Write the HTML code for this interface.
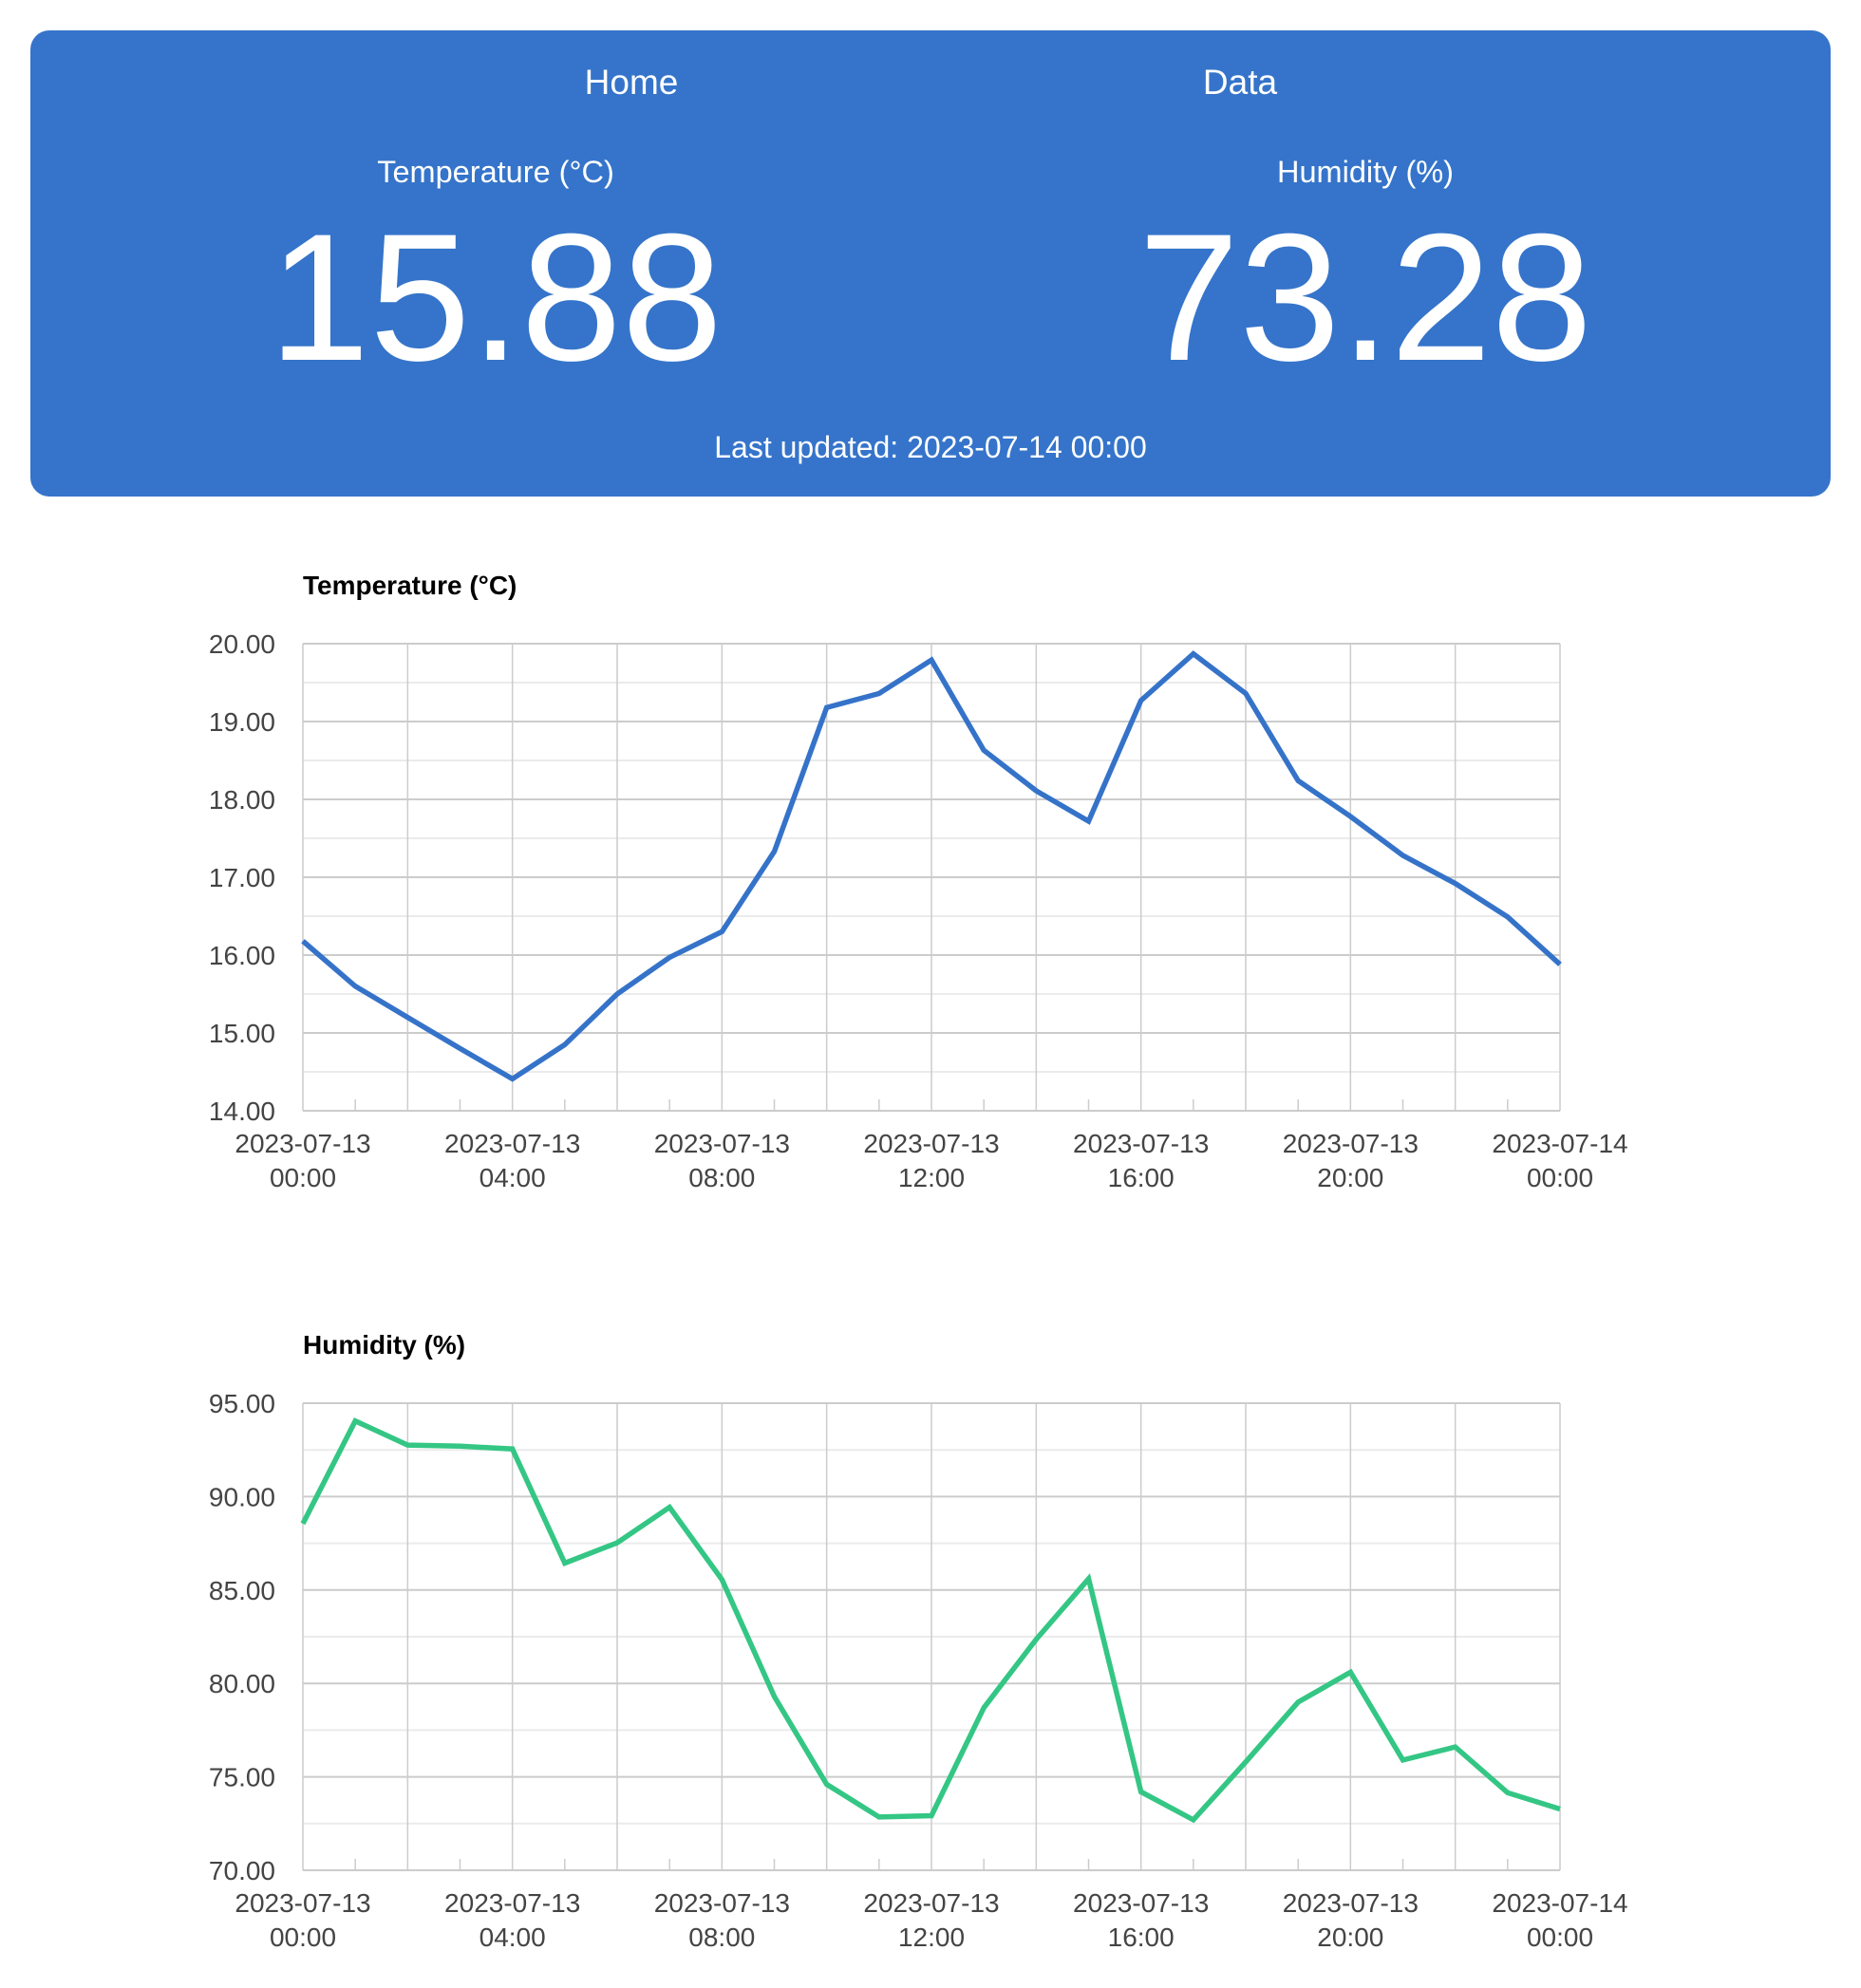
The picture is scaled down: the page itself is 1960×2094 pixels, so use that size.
<!DOCTYPE html>
<html><head><meta charset="utf-8"><style>
body{margin:0;background:#fff;width:1960px;height:2094px;position:relative;overflow:hidden;font-family:"Liberation Sans",Arial,sans-serif}
#hdr{position:absolute;left:32px;top:32px;width:1896px;height:491px;background:#3574ca;border-radius:20px;color:#fff}
.t{position:absolute;transform:translate(-50%,0);white-space:nowrap;text-align:center}
</style></head><body>
<div id="hdr">
 <div class="t" style="left:633px;top:34px;font-size:37px">Home</div>
 <div class="t" style="left:1274px;top:34px;font-size:37px">Data</div>
 <div class="t" style="left:490px;top:131px;font-size:32.5px">Temperature (°C)</div>
 <div class="t" style="left:490px;top:172px;font-size:191px;line-height:220px">15.88</div>
 <div class="t" style="left:1406px;top:131px;font-size:32.5px">Humidity (%)</div>
 <div class="t" style="left:1406px;top:172px;font-size:191px;line-height:220px">73.28</div>
 <div class="t" style="left:948px;top:421px;font-size:32px">Last updated: 2023-07-14 00:00</div>
</div>
<svg id="svg" width="1960" height="2094" style="position:absolute;left:0;top:0"></svg>
<script>
const hours=[0,1,2,3,4,5,6,7,8,9,10,11,12,13,14,15,16,17,18,19,20,21,22,23,24];
const tempValues=[16.18,15.6,15.2,14.8,14.41,14.85,15.5,15.97,16.3,17.33,19.18,19.36,19.79,18.63,18.11,17.72,19.27,19.87,19.36,18.24,17.78,17.28,16.92,16.49,15.88];
const humValues=[88.55,94.05,92.76,92.7,92.55,86.44,87.53,89.43,85.56,79.3,74.6,72.85,72.92,78.7,82.36,85.6,74.2,72.7,75.8,79.0,80.6,75.9,76.6,74.15,73.28];
const tempTicks=["14.00","15.00","16.00","17.00","18.00","19.00","20.00"];
const humTicks=["70.00","75.00","80.00","85.00","90.00","95.00"];
const xTickDates=["2023-07-13","2023-07-13","2023-07-13","2023-07-13","2023-07-13","2023-07-13","2023-07-14"];
const xTickTimes=["00:00","04:00","08:00","12:00","16:00","20:00","00:00"];
const NS="http://www.w3.org/2000/svg";
const svg=document.getElementById('svg');
function mk(tag,a,p){const e=document.createElementNS(NS,tag);for(const k in a)e.setAttribute(k,a[k]);(p||svg).appendChild(e);return e;}
function chart(title,top,ticks,vals,color,nm){
 const L=319,R=1643,T=top,B=top+492;
 const g=mk('g',{});
 
 
 const lo=+ticks[0],hi=+ticks[ticks.length-1],step=+ticks[1]-+ticks[0];
 const y=v=>B-(v-lo)/(hi-lo)*(B-T);
 const x=h=>L+(h-hours[0])/(hours[hours.length-1]-hours[0])*(R-L);
 const tt=mk('text',{x:L,y:T-52,'font-size':28,'font-weight':'bold',fill:'#000'},g);tt.textContent=title;
 
 
 for(let i=0;i<ticks.length-1;i++){mk('line',{x1:L,x2:R,y1:y(+ticks[i]+step/2),y2:y(+ticks[i]+step/2),stroke:'#ebebeb','stroke-width':2},g);}
 for(let h=0;h<=24;h+=2){mk('line',{x1:x(h),x2:x(h),y1:T,y2:B,stroke:'#cccccc','stroke-width':1.5},g);}
 for(let h=1;h<24;h+=2){mk('line',{x1:x(h),x2:x(h),y1:B-12,y2:B,stroke:'#cccccc','stroke-width':1.5},g);}
 ticks.forEach(t=>{mk('line',{x1:L,x2:R,y1:y(+t),y2:y(+t),stroke:'#cccccc','stroke-width':2},g);
  const e=mk('text',{x:290,y:y(+t)+10,'font-size':28,'text-anchor':'end',fill:'#444'},g);e.textContent=t;
  
  });
 xTickDates.forEach((d,i)=>{const xx=x(i*4);
  const a=mk('text',{x:xx,y:B+44,'font-size':28,'text-anchor':'middle',fill:'#444'},g);a.textContent=d;
  
  
  const b=mk('text',{x:xx,y:B+80,'font-size':28,'text-anchor':'middle',fill:'#444'},g);b.textContent=xTickTimes[i];
  
  });
 const pts=vals.map((v,i)=>x(hours[i])+','+y(v)).join(' ');
 const pl=mk('polyline',{points:pts,fill:'none',stroke:color,'stroke-width':5.5,'stroke-linejoin':'miter'},g);
 
 
}
chart('Temperature (°C)',678,tempTicks,tempValues,'#3573c9','temperature');
chart('Humidity (%)',1478,humTicks,humValues,'#34c684','humidity');
</script>
</body></html>
